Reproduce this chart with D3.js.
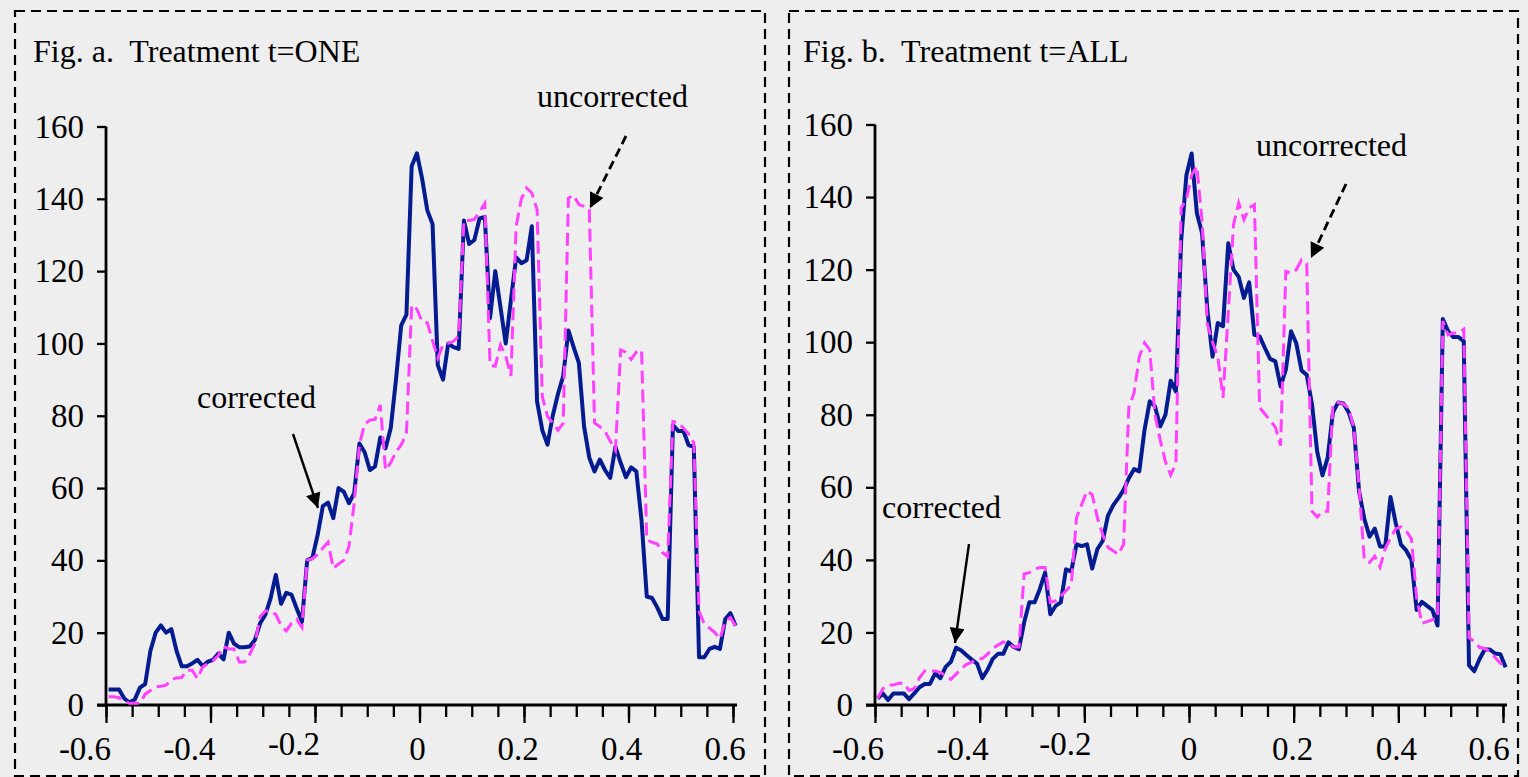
<!DOCTYPE html>
<html>
<head>
<meta charset="utf-8">
<script src="https://cdn.jsdelivr.net/npm/d3@7"></script>
<style>
  html, body { margin: 0; padding: 0; background: #eeeeee; }
  svg { display: block; }
  text { font-family: "Liberation Serif", "Times New Roman", Times, serif; fill: #000; }
</style>
</head>
<body>
<svg id="chart" width="1528" height="777"></svg>
<script>
// Bin centres of the running-variable histogram (bin width 0.01)
const binCount = 121;
const binCentres = d3.range(binCount).map(i => +(-0.595 + i * 0.01).toFixed(3));

// Fig. a — treatment t = ONE
const aCorrected = [
  4.3, 4.3, 4.3, 1.8, 0.7, 1.5, 4.8, 5.8, 15, 20,
  22, 20, 21, 15, 10.7, 10.7, 11.5, 12.5, 10.8, 12,
  12.5, 14.2, 12.6, 20, 17, 16, 16, 16.2, 18, 22.6,
  25, 29.5, 36, 28, 31, 30.5, 26.7, 23, 40, 40.7,
  47, 55, 56, 51.7, 60, 59, 55.8, 58.6, 72.3, 69.9,
  65, 66, 74, 71, 76.6, 90, 105, 108, 149, 152.6,
  145.6, 136.8, 133, 94, 90, 100, 99, 98.5, 134, 127.5,
  128.6, 134.6, 135, 107, 120, 110, 100, 112, 123.8, 122.2,
  123, 132.4, 84, 76, 72, 80, 86, 91, 103.6, 99,
  94.6, 77, 68.4, 64.6, 67.9, 65, 62.8, 71.4, 67, 63,
  65.7, 64.6, 51, 30, 29.6, 27, 23.8, 23.8, 77.4, 75.8,
  75.8, 71.9, 71.4, 13.2, 13.2, 15.5, 16.1, 15.5, 23.7, 25.4,
  21.9
];
const aUncorrected = [
  2.3, 2.3, 2, 1, 0.5, 0.5, 0.5, 3, 4, 5,
  5.2, 5.5, 7, 7.5, 7.6, 9.6, 9.6, 7.3, 10.5, 11.5,
  12.3, 13.7, 16.2, 15.5, 15.5, 11.9, 11.9, 14, 17, 24.4,
  26, 26, 25, 22, 20.5, 22.6, 23.7, 21.5, 40, 40.5,
  41.6, 43.4, 45, 37.8, 39, 40, 43.8, 55.9, 72, 77.7,
  78.8, 79, 83, 65, 67, 70, 72, 75, 110.6, 109.5,
  106, 105.7, 100.7, 96, 99.6, 100, 100.6, 102, 134, 134,
  134.3, 136.5, 138.7, 94, 93.7, 99.6, 96.5, 91, 132.4, 140,
  143, 141.6, 137, 85.3, 79.8, 78, 76, 77.9, 140.2, 141,
  138.4, 137.9, 137, 78, 77, 75.7, 73, 70.4, 98.2, 97.6,
  95.6, 97.6, 98.2, 45.7, 45, 44.6, 42.2, 41, 78.4, 78.1,
  76.6, 75, 72.5, 25.9, 22.4, 21.3, 20.1, 18.3, 23, 24.2,
  21.9
];

// Fig. b — treatment t = ALL
const bCorrected = [
  1.8, 3.2, 1.4, 3.2, 3.2, 3.2, 1.6, 3.2, 4.9, 5.8,
  5.8, 8.7, 7.4, 10.5, 11.9, 15.8, 15, 13.7, 12.5, 11.4,
  7.4, 9.7, 12.7, 14.1, 14.1, 17.3, 16, 15.4, 22.8, 28.3,
  28.3, 32, 36.5, 25, 27.3, 28.3, 37.4, 36.8, 44.3, 43.8,
  44.3, 37.6, 43, 45.2, 52.1, 55, 57, 59.3, 62.5, 65,
  64.4, 75.8, 83.7, 82.3, 76.8, 80, 89.4, 86.4, 128, 146,
  152, 135.6, 130, 109, 96, 105.3, 104.4, 127.3, 120, 118,
  112.2, 116.5, 102, 101.6, 98.4, 95.4, 94.7, 87.8, 92.4, 103,
  99.7, 92.2, 91, 82.9, 69.8, 63.3, 68.2, 80.7, 83.4, 83.1,
  80.7, 76.4, 58.9, 51.3, 46.4, 48.6, 43.7, 43.7, 57.3, 50.2,
  44.2, 42.6, 40, 26.2, 28.4, 27.3, 26.2, 21.9, 106.4, 103.1,
  101.4, 101.4, 100.3, 11, 9.3, 12.6, 15.3, 15.3, 14.2, 14,
  10.4
];
const bUncorrected = [
  1.8, 4.5, 5.5, 5.5, 6, 6, 4, 4.5, 7.5, 9.4,
  9.4, 9.4, 9, 8, 7.1, 8.5, 10, 11.2, 11.8, 12.7,
  12.8, 14, 15.6, 16.5, 17.4, 16.9, 16, 16, 36.1, 36.5,
  37.5, 37.9, 37.9, 28.3, 28.7, 30, 31.5, 33, 51.6, 55.3,
  59, 58, 51.6, 47, 43.5, 42.5, 41.5, 44.3, 82, 86,
  96, 99.8, 97.9, 80, 73, 67, 63.4, 66.6, 137, 139.3,
  146, 148.5, 133.4, 105, 100, 96, 84.7, 108, 132.4, 138.4,
  133.8, 137, 137.9, 82, 80.2, 78.4, 76.6, 71.5, 119.5, 119,
  120, 122.7, 121.6, 53.4, 51.8, 53.4, 53.4, 82.9, 83.4, 83,
  81.8, 76.4, 60, 40, 39.3, 41, 38, 43.1, 46, 48.6,
  49.1, 48, 45.8, 29.5, 22.5, 23, 23.5, 24, 105.8, 102,
  102.5, 102.5, 103.6, 18.6, 17.5, 15.9, 15.5, 14.8, 13.1, 11.5,
  10.9
];

// Axis ticks
const xMajorTicks = [-0.6, -0.4, -0.2, 0, 0.2, 0.4, 0.6];
const xMinorTicks = d3.range(25).map(i => +(-0.6 + i * 0.05).toFixed(2));
const yTicks = [0, 20, 40, 60, 80, 100, 120, 140, 160];

const panels = [
  {
    title: "Fig. a.  Treatment t=ONE",
    corrected: aCorrected,
    uncorrected: aUncorrected,
    frame: { x0: 15, y0: 11, x1: 765, y1: 776 },
    titlePos: [33, 62],
    xRange: [106, 733],
    yRange: [705, 126.5],
    labelShift: [-21, -21, -21, -2, -6, -7, -8],
    corrLabel: { text: "corrected", x: 197, y: 408, from: [293, 434], to: [318, 508] },
    uncLabel: { text: "uncorrected", x: 537, y: 107, from: [626, 136], to: [590, 208] }
  },
  {
    title: "Fig. b.  Treatment t=ALL",
    corrected: bCorrected,
    uncorrected: bUncorrected,
    frame: { x0: 789, y0: 11, x1: 1518, y1: 776 },
    titlePos: [803, 62],
    xRange: [875, 1503],
    yRange: [705, 124.5],
    labelShift: [-17, -17, -19, 0, -1, -2, -14],
    corrLabel: { text: "corrected", x: 882, y: 518, from: [969, 544], to: [955, 643] },
    uncLabel: { text: "uncorrected", x: 1256, y: 156, from: [1346, 184], to: [1311, 258] }
  }
];

const svg = d3.select("#chart");
svg.append("rect").attr("width", 1528).attr("height", 777).attr("fill", "#eeeeee");

const defs = svg.append("defs");
defs.append("marker")
  .attr("id", "arrowHead")
  .attr("viewBox", "0 0 10 10")
  .attr("refX", 10).attr("refY", 5)
  .attr("markerUnits", "userSpaceOnUse")
  .attr("markerWidth", 19).attr("markerHeight", 15)
  .attr("orient", "auto")
  .append("path")
  .attr("d", "M0,0 L10,5 L0,10 Z")
  .attr("fill", "#000");

const TICK_FONT = 33;
const NOTE_FONT = 32;
const TITLE_FONT = 32;

panels.forEach(p => {
  const g = svg.append("g");

  // dashed frame
  g.append("rect")
    .attr("x", p.frame.x0).attr("y", p.frame.y0)
    .attr("width", p.frame.x1 - p.frame.x0)
    .attr("height", p.frame.y1 - p.frame.y0)
    .attr("fill", "none")
    .attr("stroke", "#000")
    .attr("stroke-width", 2.2)
    .attr("stroke-dasharray", "10,6");

  g.append("text")
    .attr("x", p.titlePos[0]).attr("y", p.titlePos[1])
    .attr("font-size", TITLE_FONT)
    .attr("xml:space", "preserve")
    .style("white-space", "pre")
    .text(p.title);

  const x = d3.scaleLinear().domain([-0.6, 0.6]).range(p.xRange);
  const y = d3.scaleLinear().domain([0, 160]).range(p.yRange);

  // x axis: minor and major ticks
  const xMinor = d3.axisBottom(x).tickValues(xMinorTicks).tickSize(12).tickFormat("");
  const xMajor = d3.axisBottom(x).tickValues(xMajorTicks).tickSize(18).tickFormat("");
  [xMinor, xMajor].forEach(ax => {
    const a = g.append("g").attr("transform", `translate(0,${y(0)})`).call(ax);
    a.select(".domain").remove();
    a.selectAll(".tick line").attr("stroke", "#000").attr("stroke-width", 2.3);
  });
  g.append("line")
    .attr("x1", x(-0.6) - 9).attr("x2", x(0.6) + 4)
    .attr("y1", y(0)).attr("y2", y(0))
    .attr("stroke", "#000").attr("stroke-width", 2.8);

  g.selectAll("text.xlab")
    .data(xMajorTicks)
    .join("text")
    .attr("class", "xlab")
    .attr("x", (d, i) => x(d) + p.labelShift[i])
    .attr("y", d => (d === -0.2 ? 755 : 760))
    .attr("text-anchor", "middle")
    .attr("font-size", TICK_FONT)
    .text(d => d3.format("")(d).replace("−", "-"));

  // y axis
  const yAx = d3.axisLeft(y).tickValues(yTicks).tickSize(9).tickPadding(13).tickFormat(d3.format("d"));
  const ya = g.append("g").attr("transform", `translate(${x(-0.6)},0)`).call(yAx);
  ya.select(".domain").remove();
  ya.selectAll(".tick line").attr("stroke", "#000").attr("stroke-width", 2.3);
  ya.selectAll(".tick text")
    .attr("font-family", "'Liberation Serif', 'Times New Roman', serif")
    .attr("font-size", TICK_FONT)
    .attr("fill", "#000");
  g.append("line")
    .attr("x1", x(-0.6)).attr("x2", x(-0.6))
    .attr("y1", y(0)).attr("y2", y(160))
    .attr("stroke", "#000").attr("stroke-width", 2.8);

  // series
  const line = d3.line()
    .x((d, i) => x(binCentres[i]))
    .y(d => y(d));

  g.append("path")
    .datum(p.corrected)
    .attr("d", line)
    .attr("fill", "none")
    .attr("stroke", "#051b90")
    .attr("stroke-width", 4)
    .attr("stroke-linejoin", "round");

  g.append("path")
    .datum(p.uncorrected)
    .attr("d", line)
    .attr("fill", "none")
    .attr("stroke", "#ff40ff")
    .attr("stroke-width", 3)
    .attr("stroke-dasharray", "13,6");

  // annotations
  g.append("text")
    .attr("x", p.corrLabel.x).attr("y", p.corrLabel.y)
    .attr("font-size", NOTE_FONT)
    .text(p.corrLabel.text);
  g.append("line")
    .attr("x1", p.corrLabel.from[0]).attr("y1", p.corrLabel.from[1])
    .attr("x2", p.corrLabel.to[0]).attr("y2", p.corrLabel.to[1])
    .attr("stroke", "#000").attr("stroke-width", 2.4)
    .attr("marker-end", "url(#arrowHead)");

  g.append("text")
    .attr("x", p.uncLabel.x).attr("y", p.uncLabel.y)
    .attr("font-size", NOTE_FONT)
    .text(p.uncLabel.text);
  g.append("line")
    .attr("x1", p.uncLabel.from[0]).attr("y1", p.uncLabel.from[1])
    .attr("x2", p.uncLabel.to[0]).attr("y2", p.uncLabel.to[1])
    .attr("stroke", "#000").attr("stroke-width", 2.8)
    .attr("stroke-dasharray", "9,5")
    .attr("marker-end", "url(#arrowHead)");
});
</script>
</body>
</html>
